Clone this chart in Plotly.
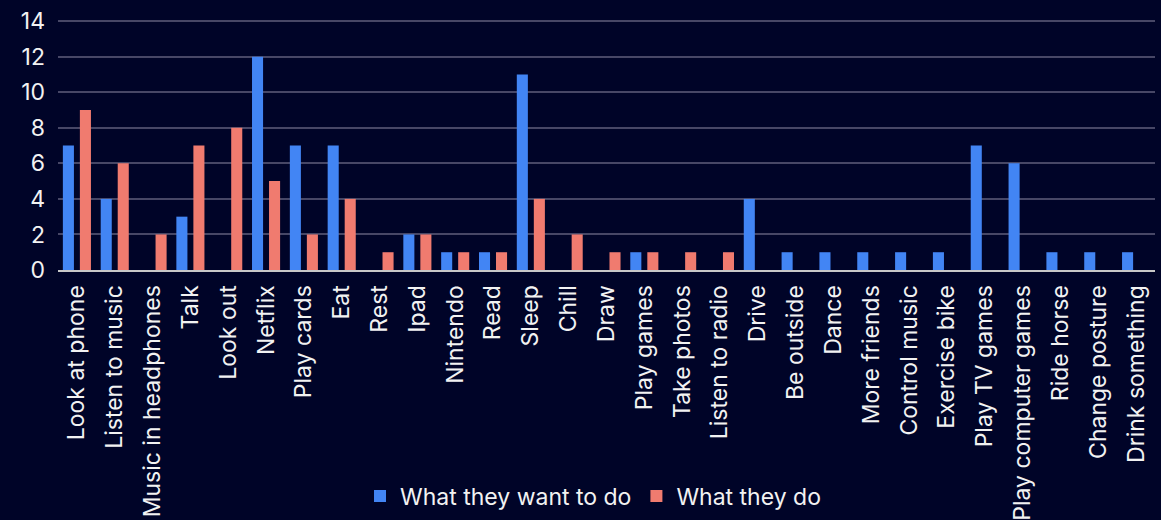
import plotly.graph_objects as go

categories = ["Look at phone", "Listen to music", "Music in headphones", "Talk", "Look out",
              "Netflix", "Play cards", "Eat", "Rest", "Ipad", "Nintendo", "Read", "Sleep",
              "Chill", "Draw", "Play games", "Take photos", "Listen to radio", "Drive",
              "Be outside", "Dance", "More friends", "Control music", "Exercise bike",
              "Play TV games", "Play computer games", "Ride horse", "Change posture",
              "Drink something"]
want = [7, 4, 0, 3, 0, 12, 7, 7, 0, 2, 1, 1, 11, 0, 0, 1, 0, 0, 4, 1, 1, 1, 1, 1, 7, 6, 1, 1, 1]
do = [9, 6, 2, 7, 8, 5, 2, 4, 1, 2, 1, 1, 4, 2, 1, 1, 1, 1, 0, 0, 0, 0, 0, 0, 0, 0, 0, 0, 0]
y_ticks = [0, 2, 4, 6, 8, 10, 12, 14]

BG = "#000428"
FONT = "Inter, Roboto, sans-serif"
TXT = "#f2f2f2"
FS = 23

fig = go.Figure()
fig.add_trace(go.Bar(x=categories, y=want, name="What they want to do",
                     marker=dict(color="#4285F4", line=dict(width=0))))
fig.add_trace(go.Bar(x=categories, y=do, name="What they do",
                     marker=dict(color="#F07B6F", line=dict(width=0))))

fig.update_layout(
    width=1161, height=520,
    paper_bgcolor=BG, plot_bgcolor=BG,
    margin=dict(l=58, r=6, t=20, b=250, autoexpand=False),
    barmode="group", bargap=0.1, bargroupgap=0.35,
    font=dict(family=FONT, color=TXT, size=FS),
    legend=dict(orientation="h", x=0.4877, xanchor="center",
                yref="container", y=0.046, yanchor="middle",
                font=dict(size=FS, color=TXT), bgcolor="rgba(0,0,0,0)",
                itemwidth=30, traceorder="normal"),
    xaxis=dict(tickangle=-90, showgrid=False, showline=True, linecolor="#c8c8c8",
               linewidth=2, ticks="", automargin=False, ticklabelstandoff=4,
               tickfont=dict(size=FS, color=TXT)),
    yaxis=dict(range=[0, 14.06], tickvals=y_ticks, showgrid=True, gridcolor="#474766",
               gridwidth=1.5, zeroline=False, showline=False, ticks="", automargin=False,
               ticklabelstandoff=12, tickfont=dict(size=FS, color=TXT)),
)

fig.write_html("out.html", config={"displayModeBar": False},
               post_script="document.body.style.margin='0';document.body.style.background='#000428';")
